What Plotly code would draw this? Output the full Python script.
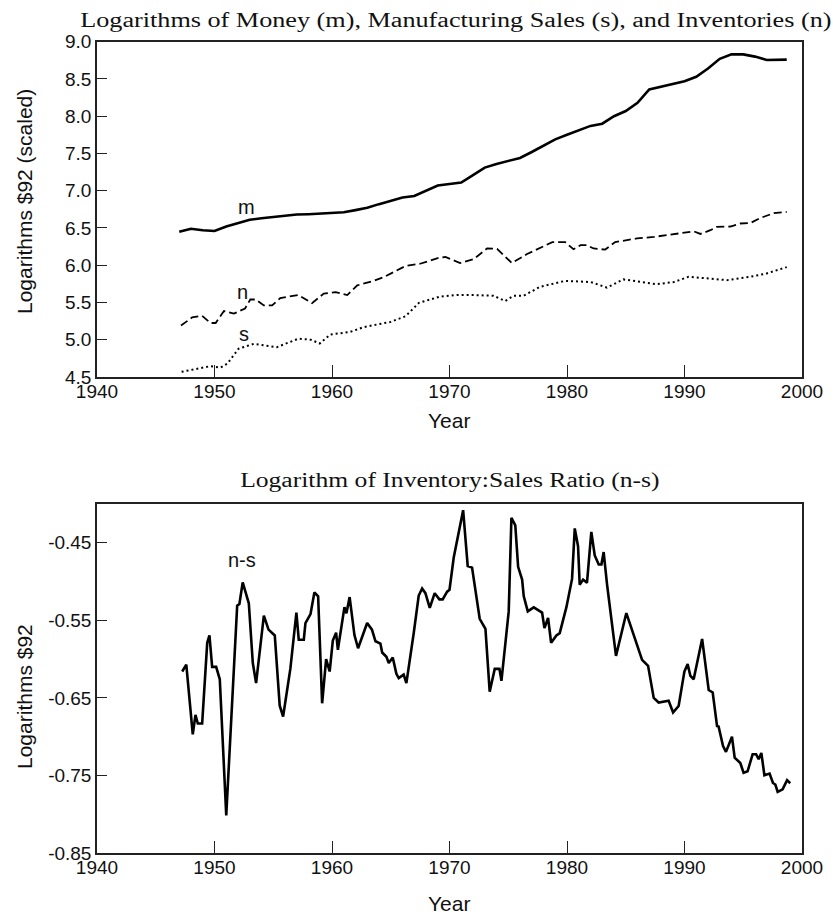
import plotly.graph_objects as go

# ---------------- data ----------------
m_years = [1947, 1948, 1949, 1950, 1951, 1952, 1953, 1954, 1955, 1956,
           1957, 1958, 1959, 1960, 1961, 1962, 1963, 1964, 1965, 1966,
           1967, 1968, 1969, 1970, 1971, 1972, 1973, 1974, 1975, 1976,
           1977, 1978, 1979, 1980, 1981, 1982, 1983, 1984, 1985, 1986,
           1987, 1988, 1989, 1990, 1991, 1992, 1993, 1994, 1995, 1996,
           1997, 1998.7]
m_vals = [6.45, 6.49, 6.47, 6.46, 6.52, 6.57, 6.61, 6.63, 6.65, 6.67,
          6.68, 6.685, 6.69, 6.70, 6.71, 6.74, 6.77, 6.82, 6.87, 6.91,
          6.93, 7.00, 7.07, 7.09, 7.11, 7.21, 7.31, 7.36, 7.40, 7.44,
          7.52, 7.60, 7.69, 7.75, 7.81, 7.87, 7.90, 8.00, 8.07, 8.18,
          8.36, 8.40, 8.43, 8.47, 8.53, 8.64, 8.77, 8.83, 8.83, 8.80,
          8.755, 8.76]

n_years = [1947.15, 1948.1, 1948.95, 1949.65, 1950.1, 1950.8, 1951.65, 1952.6,
           1953.05, 1953.5, 1954.2, 1954.9, 1955.6, 1957.15, 1958.3, 1959.3,
           1960.3, 1961.3, 1962.15, 1963.55, 1964.4, 1966.25, 1967.5, 1969.1,
           1969.65, 1970.9, 1972.05, 1973.2, 1974.05, 1975.3, 1976.6, 1978.75,
           1979.85, 1980.55, 1981.15, 1981.7, 1982.25, 1983.25, 1984.1, 1985.95,
           1987.4, 1989.1, 1990.8, 1991.35, 1992.2, 1992.75, 1993.9, 1994.75,
           1995.6, 1996.4, 1997.6, 1998.7]
n_vals = [5.19, 5.30, 5.32, 5.225, 5.225, 5.385, 5.35, 5.42,
          5.54, 5.54, 5.46, 5.46, 5.56, 5.60, 5.49, 5.62,
          5.64, 5.60, 5.73, 5.79, 5.84, 5.99, 6.02, 6.10,
          6.11, 6.03, 6.08, 6.225, 6.22, 6.03, 6.15, 6.31,
          6.31, 6.215, 6.27, 6.27, 6.225, 6.21, 6.31, 6.36,
          6.38, 6.42, 6.455, 6.42, 6.47, 6.515, 6.52, 6.56,
          6.565, 6.63, 6.70, 6.715]

s_years = [1947.2, 1948.4, 1949.65, 1950.5, 1951.1, 1952.05, 1953.35, 1955.3,
           1957.15, 1958.2, 1958.95, 1959.85, 1961.55, 1962.7, 1965.0, 1966.25,
           1967.4, 1969.2, 1970.65, 1972.05, 1973.75, 1974.75, 1975.45, 1976.3,
           1977.7, 1979.85, 1982.0, 1983.4, 1984.8, 1987.65, 1989.1, 1990.35,
           1991.9, 1993.6, 1995.6, 1997.0, 1998.7]
s_vals = [4.57, 4.61, 4.645, 4.625, 4.68, 4.88, 4.945, 4.90,
          5.015, 5.00, 4.95, 5.07, 5.105, 5.17, 5.24, 5.315,
          5.495, 5.58, 5.60, 5.60, 5.59, 5.52, 5.59, 5.59,
          5.71, 5.79, 5.775, 5.70, 5.81, 5.745, 5.775, 5.845,
          5.82, 5.80, 5.845, 5.89, 5.975]

ns_years = [1947.25, 1947.6, 1948.15, 1948.38, 1948.58, 1948.95, 1949.38, 1949.57,
            1949.8, 1950.14, 1950.45, 1951.0, 1951.93, 1952.12, 1952.4, 1952.92,
            1953.26, 1953.54, 1954.2, 1954.6, 1955.13, 1955.55, 1955.84, 1956.46,
            1956.97, 1957.17, 1957.6, 1957.74, 1958.17, 1958.5, 1958.82, 1959.16,
            1959.5, 1959.8, 1960.07, 1960.35, 1960.5, 1960.78, 1961.06, 1961.23,
            1961.5, 1961.91, 1962.22, 1962.99, 1963.4, 1963.7, 1964.12, 1964.27,
            1964.63, 1964.83, 1965.17, 1965.48, 1965.68, 1966.1, 1966.33, 1966.96,
            1967.38, 1967.67, 1967.95, 1968.32, 1968.74, 1969.14, 1969.42, 1969.8,
            1970.0, 1970.36, 1971.16, 1971.55, 1971.92, 1972.57, 1973.06, 1973.42,
            1973.85, 1974.25, 1974.42, 1975.04, 1975.27, 1975.6, 1975.84, 1976.18,
            1976.32, 1976.66, 1977.17, 1977.88, 1978.08, 1978.39, 1978.65, 1979.1,
            1979.38, 1979.95, 1980.43, 1980.66, 1980.94, 1981.08, 1981.37, 1981.7,
            1982.07, 1982.36, 1982.7, 1982.93, 1983.12, 1983.41, 1984.17, 1985.05,
            1986.39, 1986.9, 1987.38, 1987.8, 1988.65, 1989.03, 1989.5, 1989.99,
            1990.27, 1990.5, 1990.78, 1991.5, 1992.06, 1992.4, 1992.77, 1992.9,
            1993.28, 1993.53, 1994.04, 1994.27, 1994.75, 1995.03, 1995.37, 1995.8,
            1996.09, 1996.31, 1996.54, 1996.8, 1997.24, 1997.53, 1997.73, 1997.93,
            1998.35, 1998.73, 1999.0]
ns_vals = [-0.616, -0.607, -0.697, -0.672, -0.683, -0.683, -0.579, -0.5695,
           -0.610, -0.610, -0.626, -0.8015, -0.531, -0.529, -0.501, -0.528,
           -0.605, -0.631, -0.544, -0.562, -0.5695, -0.660, -0.674, -0.612,
           -0.540, -0.575, -0.575, -0.5535, -0.542, -0.514, -0.519, -0.657,
           -0.600, -0.616, -0.576, -0.566, -0.588, -0.562, -0.533, -0.541,
           -0.520, -0.569, -0.586, -0.5535, -0.562, -0.577, -0.580, -0.5915,
           -0.597, -0.605, -0.598, -0.619, -0.6245, -0.620, -0.631, -0.566,
           -0.518, -0.509, -0.515, -0.534, -0.515, -0.523, -0.523, -0.513,
           -0.5105, -0.469, -0.408, -0.480, -0.482, -0.548, -0.561, -0.642,
           -0.6126, -0.6126, -0.628, -0.5385, -0.4177, -0.4276, -0.481, -0.4975,
           -0.519, -0.5385, -0.5333, -0.540, -0.560, -0.547, -0.579, -0.5695,
           -0.5665, -0.533, -0.4966, -0.4315, -0.4544, -0.504, -0.4975, -0.5017,
           -0.436, -0.4664, -0.478, -0.478, -0.462, -0.504, -0.5958, -0.5406,
           -0.601, -0.6087, -0.650, -0.656, -0.6536, -0.6687, -0.6605, -0.616,
           -0.6065, -0.6217, -0.626, -0.574, -0.6398, -0.643, -0.6864, -0.687,
           -0.7122, -0.7196, -0.700, -0.727, -0.734, -0.7467, -0.7446, -0.7226,
           -0.7226, -0.729, -0.721, -0.7497, -0.7476, -0.7597, -0.7617, -0.7713,
           -0.768, -0.756, -0.760]

x_ticks = [1940, 1950, 1960, 1970, 1980, 1990, 2000]
top_yticks = [4.5, 5.0, 5.5, 6.0, 6.5, 7.0, 7.5, 8.0, 8.5, 9.0]
top_yticktext = ["4.5", "5.0", "5.5", "6.0", "6.5", "7.0", "7.5", "8.0", "8.5", "9.0"]
bot_yticks = [-0.85, -0.75, -0.65, -0.55, -0.45]
bot_yticktext = ["-0.85", "-0.75", "-0.65", "-0.55", "-0.45"]

W, H = 833, 916
SANS = "Liberation Sans, Arial, sans-serif"
SERIF = "Liberation Serif, Times New Roman, serif"
AX = "#222222"
TXT = "#111111"

def px_x(p):
    return p / W

def px_y(p):
    return 1 - p / H

fig = go.Figure()
fig.add_trace(go.Scatter(x=m_years, y=m_vals, mode="lines",
                         line=dict(color="black", width=2.6), xaxis="x", yaxis="y"))
fig.add_trace(go.Scatter(x=n_years, y=n_vals, mode="lines",
                         line=dict(color="black", width=1.8, dash="8px,4px"), xaxis="x", yaxis="y"))
fig.add_trace(go.Scatter(x=s_years, y=s_vals, mode="lines",
                         line=dict(color="black", width=2.0, dash="2px,3px"), xaxis="x", yaxis="y"))
fig.add_trace(go.Scatter(x=ns_years, y=ns_vals, mode="lines",
                         line=dict(color="black", width=2.6), xaxis="x2", yaxis="y2"))

xdom = [px_x(97), px_x(802)]
common_x = dict(range=[1940, 2000], tickvals=x_ticks, ticks="inside", ticklen=12,
                tickwidth=1.3, tickcolor=AX, showline=True, linecolor=AX, linewidth=1.5,
                mirror=True, showgrid=False, zeroline=False, automargin=False,
                ticklabelstandoff=-4,
                tickfont=dict(family=SANS, size=19, color=TXT),
                domain=xdom)
common_y = dict(ticks="inside", ticklen=10, tickwidth=1.3, tickcolor=AX,
                showline=True, linecolor=AX, linewidth=1.5, mirror=True,
                showgrid=False, zeroline=False, automargin=False,
                tickfont=dict(family=SANS, size=19, color=TXT))

fig.update_layout(
    width=W, height=H,
    margin=dict(l=0, r=0, t=0, b=0),
    paper_bgcolor="white", plot_bgcolor="white",
    showlegend=False,
    xaxis=dict(common_x, anchor="y"),
    yaxis=dict(common_y, anchor="x", range=[4.5, 9.0], tickvals=top_yticks, ticktext=top_yticktext,
               domain=[px_y(377), px_y(41.7)]),
    xaxis2=dict(common_x, anchor="y2"),
    yaxis2=dict(common_y, anchor="x2", range=[-0.85, -0.40], tickvals=bot_yticks, ticktext=bot_yticktext,
                domain=[px_y(853), px_y(504)]),
)

def ann(text, x, y, size, family=SANS, angle=0, xref="paper", yref="paper"):
    return dict(text=text, x=x, y=y, xref=xref, yref=yref, showarrow=False,
                textangle=angle, xanchor="center", yanchor="middle",
                font=dict(family=family, size=size, color=TXT))

annotations = [
    ann("Logarithms of Money (m), Manufacturing Sales (s), and Inventories (n)",
        px_x(456), px_y(20), 20, SERIF),
    ann("Logarithm of Inventory:Sales Ratio (n-s)", px_x(450), px_y(480), 20, SERIF),
    ann("Year", px_x(449), px_y(420), 21),
    ann("Year", px_x(449), px_y(903), 21),
    ann("Logarithms $92 (scaled)", px_x(24), px_y(202), 21, angle=-90),
    ann("Logarithms $92", px_x(24), px_y(697), 21, angle=-90),
    ann("m", 1952.7, 6.78, 20, xref="x", yref="y"),
    ann("n", 1952.35, 5.64, 20, xref="x", yref="y"),
    ann("s", 1952.5, 5.08, 20, xref="x", yref="y"),
    ann("n-s", 1952.35, -0.4716, 20, xref="x2", yref="y2"),
]
fig.update_layout(annotations=annotations)

# the reference's serif titles are drawn horizontally wide: stretch them in x
post_js = """
var gd = document.getElementById('{plot_id}');
gd.querySelectorAll('text.annotation-text').forEach(function(t){
  var s = t.textContent || '';
  if (s.indexOf(' of ') > 0) {
    var SX = (s.indexOf('Money') >= 0) ? 1.31 : 1.28;
    var x = parseFloat(t.getAttribute('x')) || 0;
    var tr = t.getAttribute('transform') || '';
    t.setAttribute('transform', tr + ' translate(' + x + ',0) scale(' + SX + ',1) translate(' + (-x) + ',0)');
  }
});
"""

fig.write_html("out.html", post_script=post_js)
